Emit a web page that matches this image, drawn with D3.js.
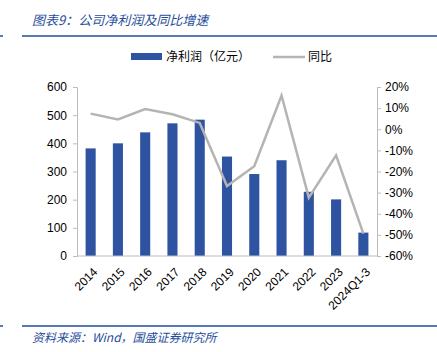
<!DOCTYPE html>
<html><head><meta charset="utf-8">
<script src="https://cdn.jsdelivr.net/npm/d3@7/dist/d3.min.js"></script>
<style>
body{margin:0;background:#fff;}
text{font-family:"Liberation Sans",Arial,sans-serif;}
.cjk{font-family:"Noto Sans CJK SC",sans-serif;}
</style></head>
<body><svg id="c" width="437" height="352"></svg>
<script>
const categories=["2014","2015","2016","2017","2018","2019","2020","2021","2022","2023","2024Q1-3"];
const profit=[382,400,439,471,484,353,291,340,228,201,83];
const yoy=[7.4,4.6,9.6,7.1,3.0,-26.9,-17.5,16.0,-32.4,-12.3,-49.4];
const leftTicks=[0,100,200,300,400,500,600];
const rightTicks=[-60,-50,-40,-30,-20,-10,0,10,20];

const svg=d3.select("#c");
const blue="#2E54A1", gray="#B4B4B4", titleBlue="#1F4E9C";
const L=77,R=377,T=87,B=256;

// title
svg.append("text").attr("class","cjk").attr("x",32).attr("y",25).attr("font-size",13)
 .attr("font-style","italic").attr("fill",titleBlue).text("图表9：公司净利润及同比增速");
svg.append("line").attr("x1",22).attr("x2",437).attr("y1",36).attr("y2",36).attr("stroke",titleBlue).attr("stroke-width",1.5);
svg.append("line").attr("x1",0).attr("x2",3).attr("y1",36).attr("y2",36).attr("stroke",titleBlue).attr("stroke-width",1.5);
svg.append("line").attr("x1",22).attr("x2",437).attr("y1",326).attr("y2",326).attr("stroke",titleBlue).attr("stroke-width",1.5);
svg.append("line").attr("x1",0).attr("x2",3).attr("y1",326).attr("y2",326).attr("stroke",titleBlue).attr("stroke-width",1.5);
svg.append("text").attr("class","cjk").attr("x",32).attr("y",342).attr("font-size",12)
 .attr("font-style","italic").attr("fill",titleBlue).text("资料来源：Wind，国盛证券研究所");

const x=d3.scaleBand().domain(categories).range([L,R]).paddingInner(0.63).paddingOuter(0.315);
const y=d3.scaleLinear().domain([0,600]).range([B,T]);
const y2=d3.scaleLinear().domain([-60,20]).range([B,T]);

// bars
svg.append("g").selectAll("rect").data(profit).join("rect")
 .attr("x",(d,i)=>x(categories[i])).attr("width",x.bandwidth())
 .attr("y",d=>y(d)).attr("height",d=>y(0)-y(d)).attr("fill",blue);

// line
const line=d3.line().x((d,i)=>x(categories[i])+x.bandwidth()/2).y(d=>y2(d));
svg.append("path").datum(yoy).attr("d",line).attr("fill","none").attr("stroke",gray).attr("stroke-width",2.5);

// axes
const axL=svg.append("g").attr("transform",`translate(${L},0)`)
 .call(d3.axisLeft(y).tickValues(leftTicks).tickSize(4).tickPadding(6));
const axR=svg.append("g").attr("transform",`translate(${R},0)`)
 .call(d3.axisRight(y2).tickValues(rightTicks).tickSize(4).tickPadding(4).tickFormat(d=>d+"%"));
const axB=svg.append("g").attr("transform",`translate(0,${B})`)
 .call(d3.axisBottom(x).tickSize(0).tickSizeOuter(0).tickPadding(8));
axB.select(".domain").attr("d",`M${L},0H${R}`);
[axL,axR,axB].forEach(a=>{
 a.select(".domain").attr("stroke","#BDBDBD");
 a.selectAll(".tick line").attr("stroke","#BDBDBD");
 a.selectAll("text").attr("font-size",12).attr("fill","#000").attr("font-family","Liberation Sans, Arial, sans-serif");
});
axB.selectAll("text").attr("text-anchor","end").attr("dy","0").attr("dx","0")
 .attr("transform","translate(2,11) rotate(-45)");

// legend
svg.append("rect").attr("x",131).attr("y",53).attr("width",31).attr("height",7).attr("fill",blue);
svg.append("text").attr("class","cjk").attr("x",166).attr("y",61).attr("font-size",12).text("净利润（亿元）");
svg.append("line").attr("x1",273).attr("x2",305).attr("y1",57).attr("y2",57).attr("stroke",gray).attr("stroke-width",2.5);
svg.append("text").attr("class","cjk").attr("x",308).attr("y",61).attr("font-size",12).text("同比");
</script></body></html>
